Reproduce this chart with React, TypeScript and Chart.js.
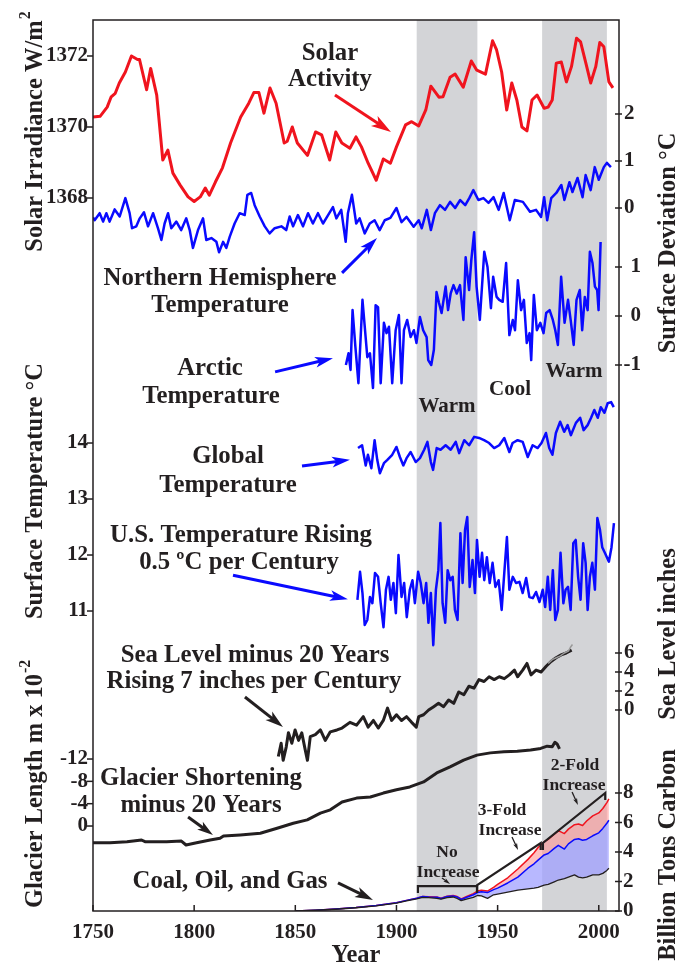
import React, { useEffect, useRef } from "react";
import { Chart, registerables } from "chart.js";
Chart.register(...registerables);

// ---------- DATA ----------
const solarYears = [1750,1753.5,1757,1759,1761,1763,1766,1769,1772,1773,1776.5,1778.5,1781.5,1784.5,1787,1789.5,1793,1797,1800,1803,1805.5,1807.5,1810.5,1814,1818,1823,1827,1829.5,1832,1834.5,1837.5,1840.5,1844.5,1846,1848.5,1851,1856,1860,1863,1867,1870,1873,1877,1880,1882.7,1886,1890,1893.5,1897,1900,1904.5,1907.5,1911,1914.5,1917,1921,1923,1926.5,1929,1933,1937,1939.7,1944,1947.5,1949.5,1952,1954.5,1957,1959.5,1962,1964.5,1967,1969.5,1973,1975,1977,1979,1981.5,1984,1986.5,1989,1991,1993.5,1996,1998.5,2000.5,2002.5,2005,2007];
const solarValues = [1370.28,1370.3,1370.56,1370.85,1370.95,1371.24,1371.55,1372.0,1371.9,1371.9,1371.05,1371.65,1370.9,1369.07,1369.35,1368.7,1368.37,1368.03,1367.9,1368.03,1368.28,1368.08,1368.45,1368.85,1369.55,1370.28,1370.67,1370.97,1370.97,1370.39,1371.1,1370.67,1369.55,1369.6,1370.0,1369.55,1369.2,1369.86,1369.78,1369.07,1369.86,1369.55,1369.4,1369.72,1369.44,1368.98,1368.5,1369.1,1368.98,1369.44,1370.06,1370.15,1370.03,1370.48,1371.15,1370.84,1370.85,1371.4,1371.49,1371.12,1371.86,1371.6,1371.49,1372.43,1372.17,1371.55,1370.48,1371.24,1370.76,1370.0,1369.89,1370.76,1370.9,1370.53,1370.56,1370.76,1371.8,1371.83,1371.27,1371.7,1372.5,1372.4,1371.83,1371.24,1371.7,1372.38,1372.26,1371.27,1371.1];

const nhYears = [1750,1750.8,1753.3,1755,1756.6,1758.2,1760.7,1763.2,1766,1768.1,1769.3,1771.4,1773.1,1775.2,1777.2,1779.7,1782.1,1783.8,1785.4,1787.1,1788.7,1791.2,1793.6,1796.1,1797.8,1799.4,1801.9,1804.4,1806,1808.5,1811,1812.3,1814.3,1815.9,1817.6,1820,1822.5,1825,1826.3,1828.2,1829.9,1832.4,1834.9,1837.3,1839.8,1843.1,1845.5,1847.2,1848.9,1851.3,1853.8,1856.3,1858.7,1861.2,1863.7,1866.2,1868.6,1870.3,1872.7,1874.9,1876,1878,1880.1,1881.8,1884.3,1886.8,1889.2,1891.7,1894.2,1897,1900,1902.5,1905,1908.5,1911,1912.5,1915,1917,1919,1921.5,1924,1926.5,1929,1931.5,1934,1936,1938,1940.5,1943,1945.5,1948,1950.5,1953,1956,1958.5,1962.5,1966,1969,1971.5,1973,1974.5,1976.5,1979,1981.5,1983,1985.5,1987,1989.5,1992,1993.5,1996,1998,2000,2002.5,2004,2006];
const nhValues = [-0.2,-0.26,-0.11,-0.29,-0.11,-0.29,-0.03,-0.18,0.21,-0.11,-0.43,-0.39,-0.22,-0.09,-0.39,-0.11,-0.43,-0.68,-0.33,-0.11,-0.43,-0.29,-0.47,-0.22,-0.47,-0.85,-0.47,-0.22,-0.68,-0.64,-0.72,-0.94,-0.72,-0.85,-0.61,-0.33,-0.11,-0.15,0.28,0.32,0.06,-0.18,-0.39,-0.54,-0.43,-0.39,-0.47,-0.18,-0.39,-0.15,-0.39,-0.11,-0.33,-0.11,-0.33,-0.15,0.02,-0.22,-0.04,-0.72,-0.11,0.28,-0.33,-0.22,-0.54,-0.33,-0.26,-0.47,-0.26,-0.21,0,-0.3,-0.19,-0.4,-0.26,-0.43,-0.04,-0.47,-0.11,0.06,-0.04,0.13,0,0.17,0.06,0.21,0.38,0.17,0.21,0.11,0.23,-0.04,0.32,-0.26,0.17,0.13,-0.08,-0.04,-0.19,0.23,-0.26,0.21,0.32,0.49,0.17,0.55,0.34,0.64,0.23,0.7,0.38,0.87,0.6,0.87,0.96,0.87];

const arcticYears = [1875,1876.3,1877.3,1878.3,1879.7,1881.2,1883.2,1885.6,1886.9,1888.4,1889.7,1890.9,1892.2,1893.8,1895.1,1896.3,1897.9,1899.6,1901.2,1902.5,1903.7,1905.3,1907,1908.6,1909.9,1911.6,1913.2,1914.9,1915.7,1917.2,1918.5,1919.8,1921,1922.3,1924.3,1925.5,1926.8,1928.2,1929.8,1931.4,1933.1,1934.2,1935.9,1937,1938.4,1939.6,1941.2,1943.4,1945,1946.7,1947.8,1949.5,1950.8,1952.5,1954.2,1955.8,1957.5,1958.6,1960,1961.6,1963,1964.4,1965.8,1966.6,1967.9,1969.4,1971.1,1972.7,1974,1975.7,1977.3,1978.5,1979.8,1981.4,1983.1,1984.8,1986.1,1987.6,1989,1990.6,1991.8,1993.1,1994.5,1995.6,1996.9,1998.1,1999.2,1999.9,2000.9];
const arcticValues = [-1.0,-0.76,-1.1,0.12,-0.63,-1.37,0.33,-0.84,-0.76,-1.47,0.22,0.18,-1.37,-0.14,-0.35,-0.22,-1.37,-0.29,0.02,-1.37,-0.29,-0.08,-0.43,-0.29,-0.55,-0.02,-0.29,-0.43,-0.9,-1.0,-0.69,0.49,0.27,0.06,0.6,0.12,0.46,0.63,0.46,0.63,-0.08,1.2,0.53,1.14,1.71,0.6,-0.08,1.31,1.0,0.16,0.8,0.39,0.33,0.29,1.08,-0.39,-0.08,-0.29,0.73,0.12,0.33,-0.55,-0.35,-0.9,0.43,-0.29,-0.14,-0.35,0.06,0.12,-0.08,-0.29,-0.59,0.8,-0.14,0.33,-0.08,-0.59,0.33,0.53,-0.29,0.39,0.12,1.31,1.08,0.6,0.53,0.12,1.51];

const globalYears = [1881,1883,1884.8,1885.9,1887.6,1889.2,1890.5,1891.8,1893.8,1895.5,1897.9,1900,1901.7,1903.4,1905,1907,1909.5,1911.6,1913.7,1915.3,1917,1918.1,1919.9,1921.8,1924.3,1926.8,1929.3,1931,1933.5,1935.9,1938.4,1940.8,1943.3,1945.8,1948.3,1950.8,1953.3,1955.8,1957.4,1959.9,1962.4,1964.9,1967.3,1969.8,1971.7,1973.9,1975.5,1977.1,1978.8,1980.9,1982.9,1984.6,1986.2,1988.7,1990.8,1992.5,1994.5,1996.2,1997.8,1999.5,2001,2002.8,2004.4,2006.1,2007.4];
const globalValues = [13.91,13.96,13.6,13.79,13.55,14.05,13.7,13.46,13.64,13.7,13.79,13.93,13.75,13.6,13.73,13.84,13.66,13.73,13.88,14.02,13.66,13.52,13.91,13.88,13.96,13.88,14.02,13.82,14.05,13.96,14.11,14.09,14.05,14.0,13.91,13.96,14.09,13.84,14.0,14.05,14.02,13.75,13.96,13.91,14.0,14.18,13.91,13.79,14.18,14.38,14.2,14.32,14.14,14.36,14.45,14.23,14.32,14.45,14.59,14.45,14.64,14.54,14.71,14.73,14.64];

const usYears = [1880.7,1882,1883.2,1884.3,1885.6,1886.9,1888.1,1889.4,1890.9,1892.2,1893.6,1894.8,1896.1,1897.2,1898.5,1899.7,1901,1902.5,1903.8,1905.1,1906.6,1907.9,1909.1,1910.7,1912,1913.4,1914.7,1915.8,1917,1918.2,1919.5,1920.7,1921.7,1922.8,1924.1,1925.3,1926.6,1927.8,1928.9,1930.2,1931.6,1932.7,1933.9,1935,1936.2,1937.6,1938.8,1939.8,1941.1,1942.3,1943.4,1944.7,1946.1,1947.5,1948.9,1950.5,1952,1953.3,1954.6,1955.8,1957.5,1959.1,1960.8,1962.4,1964.1,1965.7,1967.4,1969,1970.7,1972.3,1973.5,1974.8,1976,1977.3,1978.5,1979.8,1981.1,1982.5,1983.6,1984.8,1986.1,1987.4,1988.6,1989.8,1991,1992.3,1993.5,1994.5,1995.6,1996.8,1998.1,1999.3,2000.6,2001.7,2003,2005,2006.3,2007.5];
const usValues = [11.2,11.7,11.32,10.75,10.84,11.25,11.14,11.68,11.61,11.14,10.71,11.38,11.61,11.2,11.5,10.96,12.0,11.25,11.5,10.89,11.38,11.55,11.14,11.7,11.5,11.14,11.5,10.79,11.32,10.39,11.38,11.73,12.57,11.14,10.79,11.73,11.55,11.61,11.02,10.84,12.39,11.5,12.45,12.68,11.43,11.91,11.32,12.27,11.61,12.04,11.55,11.96,11.5,11.86,11.43,11.55,11.02,11.68,12.32,11.38,11.61,11.5,11.52,11.32,11.59,11.25,11.23,11.34,11.16,11.38,11.07,11.61,11.02,11.73,10.84,11.02,12.04,11.14,11.38,11.43,11.02,12.21,12.27,11.61,11.2,12.21,11.86,11.02,11.61,11.86,11.38,12.66,12.45,12.14,12.04,11.88,12.14,12.57];

const seaYears = [1841.6,1843,1844,1845.5,1846.6,1848.3,1849.9,1851.6,1853.2,1854.9,1856,1857.4,1859.9,1862.4,1864.8,1867.3,1870.6,1873.1,1877,1880.3,1883.6,1886,1888.6,1891,1893.5,1895.6,1897.6,1900,1902.5,1905,1907.5,1909.8,1911,1913.4,1915.9,1918.4,1920.8,1923.3,1925.8,1928.3,1930.8,1933.3,1935.8,1938.3,1940.8,1943.3,1945.8,1948.3,1950.8,1953.3,1955.8,1958.3,1959.9,1962.4,1964.5,1966.5,1969,1971.5,1974,1976.4,1978.9,1981.4,1983.9,1986.6];
const seaValues = [-4.9,-3.5,-5.3,-3.9,-2.4,-3.5,-2.1,-3.2,-2.4,-4.2,-5.3,-2.8,-2.6,-2.1,-3.2,-2.3,-2.1,-1.9,-1.3,-1.6,-0.7,-1.8,-1.1,-1.9,-1.1,0.2,-1.1,-0.5,-1.1,-0.7,-1.3,-1.8,-0.7,-0.5,0,0.35,0.7,0.35,1.05,0.7,1.9,1.6,2.5,2.3,3.2,3.0,3.5,3.2,3.5,3.3,3.7,4.2,3.5,4.2,4.9,3.7,4.2,4.0,4.6,5.1,5.5,5.8,6.0,6.3];
const seaAltYears = [1975,1977,1979,1981,1983,1985,1986,1987];
const seaAltValues = [4.9,5.3,5.5,5.7,6.0,6.2,6.6,6.9];

const glacierYears = [1750,1758.4,1766.8,1774,1775.7,1786.4,1793.7,1796,1801.2,1807.9,1812.8,1814.5,1822.8,1832.7,1841,1849,1855.9,1862.4,1867.3,1873.1,1880.3,1887.1,1893.5,1900,1906.6,1913.4,1919.9,1926.5,1933.2,1939.8,1946.4,1953.1,1959.7,1966.3,1971.3,1974.5,1977,1978.3,1979.4,1980.6];
const glacierValues = [3.0,3.0,2.8,2.5,2.8,2.8,2.7,3.4,3.0,2.5,2.2,1.8,1.6,1.3,0.4,-0.5,-1.1,-2.3,-2.9,-4.3,-5.0,-5.2,-5.9,-6.5,-7.0,-7.9,-9.5,-10.6,-11.8,-12.7,-13.1,-13.3,-13.4,-13.6,-13.9,-14.3,-14.2,-15.0,-14.7,-13.8];

const carbonYears = [1850,1860,1870,1880,1890,1900,1905,1910,1913,1916,1920,1922,1925,1928,1930,1932,1935,1938,1940,1942,1945,1948,1950,1955,1960,1965,1968,1970,1973,1975,1978,1980,1983,1985,1988,1990,1992,1994,1997,2000,2002,2004,2005];
const carbonBlack = [0.0,0.05,0.12,0.22,0.35,0.53,0.68,0.82,0.93,0.9,0.86,0.8,0.9,0.95,0.85,0.7,0.82,0.92,1.05,1.02,0.86,1.1,1.15,1.28,1.42,1.5,1.55,1.6,1.75,1.8,1.98,2.1,2.2,2.3,2.45,2.3,2.25,2.3,2.45,2.45,2.55,2.75,2.9];
const carbonBlue = [0.0,0.05,0.13,0.23,0.37,0.56,0.72,0.86,0.98,0.95,0.93,0.85,0.98,1.02,0.95,0.78,0.95,1.1,1.25,1.3,1.25,1.45,1.55,1.9,2.3,2.9,3.2,3.45,3.8,3.9,4.25,4.45,4.2,4.55,4.85,4.9,4.8,4.85,5.1,5.3,5.6,5.95,6.15];
const carbonRed = [0.0,0.05,0.13,0.23,0.37,0.56,0.72,0.87,0.99,0.97,0.95,0.87,1.0,1.05,0.98,0.82,1.0,1.18,1.35,1.4,1.35,1.6,1.8,2.25,2.85,3.5,3.95,4.3,4.7,4.85,5.2,5.45,5.25,5.55,5.85,5.9,5.8,6.1,6.45,6.65,6.95,7.35,7.6];

const xTicks = [1750, 1800, 1850, 1900, 1950, 2000];
const solarTicks = [1372, 1370, 1368];
const tempTicks = [14, 13, 12, 11];
const glacierTicks = [-12, -8, -4, 0];
const nhTicks = [2, 1, 0];
const arcticTicks = [1, 0, -1];
const seaTicks = [6, 4, 2, 0];
const carbonTicks = [8, 6, 4, 2, 0];
const warmPeriods = [[1910, 1940], [1972, 2004]];

// ---------- STYLE ----------
const SERIF = '"Liberation Serif", "Times New Roman", Times, serif';
const INK = "#231f20";
const RED = "#f0141e";
const BLUE = "#0a0aff";
const BAND = "#d3d4d7";
const ANN = 24.8;
const TITLE = 24.5;

const zip = (xs: number[], ys: number[]) => {
  const n = Math.min(xs.length, ys.length);
  const out: { x: number; y: number }[] = [];
  for (let i = 0; i < n; i++) out.push({ x: xs[i], y: ys[i] });
  return out;
};

type Txt = { t: string; x: number; y: number; s: number };
const labelTexts: Txt[] = [
  { t: "Solar", x: 330, y: 60, s: ANN },
  { t: "Activity", x: 330, y: 86, s: ANN },
  { t: "Northern Hemisphere", x: 220, y: 285, s: ANN },
  { t: "Temperature", x: 220, y: 312, s: ANN },
  { t: "Arctic", x: 210, y: 375, s: ANN },
  { t: "Temperature", x: 211, y: 403, s: ANN },
  { t: "Global", x: 228, y: 463, s: ANN },
  { t: "Temperature", x: 228, y: 492, s: ANN },
  { t: "U.S. Temperature Rising", x: 241, y: 542, s: ANN },
  { t: "0.5 ºC per Century", x: 239, y: 569, s: ANN },
  { t: "Sea Level minus 20 Years", x: 255, y: 662, s: ANN },
  { t: "Rising 7 inches per Century", x: 254, y: 688, s: ANN },
  { t: "Glacier Shortening", x: 201, y: 785, s: ANN },
  { t: "minus 20 Years", x: 201, y: 812, s: ANN },
  { t: "Coal, Oil, and Gas", x: 230, y: 888, s: ANN },
  { t: "Warm", x: 447, y: 412, s: 21 },
  { t: "Cool", x: 510, y: 395, s: 21 },
  { t: "Warm", x: 574, y: 377, s: 21 },
  { t: "No", x: 447, y: 857, s: 17.5 },
  { t: "Increase", x: 448, y: 877, s: 17.5 },
  { t: "3-Fold", x: 502, y: 815, s: 17.5 },
  { t: "Increase", x: 510, y: 835, s: 17.5 },
  { t: "2-Fold", x: 575, y: 770, s: 17.5 },
  { t: "Increase", x: 574, y: 790, s: 17.5 },
];

type Arrow = { axis: string; from: [number, number]; to: [number, number]; color: string; w: number; head: number };
const arrows: Arrow[] = [
  { axis: "ySolar", from: [1869.6, 1370.9], to: [1897.3, 1369.86], color: RED, w: 3, head: 20 },
  { axis: "yNH", from: [1873.1, -1.38], to: [1890.4, -0.64], color: BLUE, w: 3, head: 18 },
  { axis: "yArctic", from: [1840, -1.14], to: [1868.6, -0.86], color: BLUE, w: 3, head: 18 },
  { axis: "yTemp", from: [1853.3, 13.59], to: [1877, 13.7], color: BLUE, w: 3, head: 18 },
  { axis: "yTemp", from: [1819.2, 11.64], to: [1876, 11.21], color: BLUE, w: 3, head: 18 },
  { axis: "ySea", from: [1825.1, 1.37], to: [1843.9, -1.79], color: INK, w: 3, head: 18 },
  { axis: "yGlacier", from: [1797, -1.61], to: [1809.3, 1.61], color: INK, w: 3, head: 16 },
  { axis: "yCarbon", from: [1871.1, 1.9], to: [1888.4, 0.75], color: INK, w: 3, head: 18 },
  { axis: "yCarbon", from: [1922.5, 2.24], to: [1926.5, 1.83], color: INK, w: 1.3, head: 7 },
  { axis: "yCarbon", from: [1957.1, 5.02], to: [1960.1, 4.14], color: INK, w: 1.3, head: 7 },
  { axis: "yCarbon", from: [1986.8, 8.07], to: [1989.7, 7.19], color: INK, w: 1.3, head: 7 },
];

const brackets: { from: [number, number]; to: [number, number] }[] = [
  { from: [1910.6, 1.69], to: [1939.8, 1.69] },
  { from: [1939.9, 1.76], to: [1971.3, 4.61] },
  { from: [1972.4, 4.61], to: [2003.2, 8.0] },
];

function drawArrow(ctx: CanvasRenderingContext2D, x0: number, y0: number, x1: number, y1: number, color: string, w: number, head: number) {
  const dx = x1 - x0, dy = y1 - y0;
  const len = Math.hypot(dx, dy);
  const ux = dx / len, uy = dy / len;
  const bx = x1 - ux * head, by = y1 - uy * head;
  const hw = head * 0.3;
  ctx.save();
  ctx.strokeStyle = color;
  ctx.fillStyle = color;
  ctx.lineWidth = w;
  ctx.lineCap = "butt";
  ctx.beginPath();
  ctx.moveTo(x0, y0);
  ctx.lineTo(x1 - ux * head * 0.7, y1 - uy * head * 0.7);
  ctx.stroke();
  ctx.beginPath();
  ctx.moveTo(x1, y1);
  ctx.lineTo(bx - uy * hw, by + ux * hw);
  ctx.lineTo(x1 - ux * head * 0.75, y1 - uy * head * 0.75);
  ctx.lineTo(bx + uy * hw, by - ux * hw);
  ctx.closePath();
  ctx.fill();
  ctx.restore();
}

function vText(ctx: CanvasRenderingContext2D, text: string, x: number, yc: number, size: number, sup?: string, supSize?: number) {
  ctx.save();
  ctx.translate(x, yc);
  ctx.rotate(-Math.PI / 2);
  ctx.fillStyle = INK;
  ctx.font = `bold ${size}px ${SERIF}`;
  ctx.textAlign = "left";
  ctx.textBaseline = "alphabetic";
  const w = ctx.measureText(text).width;
  ctx.fillText(text, -w / 2, 0);
  if (sup) {
    ctx.font = `bold ${supSize}px ${SERIF}`;
    ctx.fillText(sup, w / 2 + 1, -size * 0.5);
  }
  ctx.restore();
}

const overlay = {
  id: "overlay",
  beforeDatasetsDraw(chart: any) {
    const { ctx, chartArea } = chart;
    const xs = chart.scales.x;
    ctx.save();
    ctx.fillStyle = BAND;
    for (const [a, b] of warmPeriods) {
      const x0 = xs.getPixelForValue(a), x1 = xs.getPixelForValue(b);
      ctx.fillRect(x0, chartArea.top, x1 - x0, chartArea.bottom - chartArea.top);
    }
    ctx.restore();
  },
  afterDraw(chart: any) {
    const { ctx, chartArea } = chart;
    const { left, right, top, bottom } = chartArea;
    const s = chart.scales;
    ctx.save();
    ctx.strokeStyle = INK;
    ctx.lineWidth = 1.5;
    ctx.strokeRect(left, top, right - left, bottom - top);

    const line = (a: number, b: number, c: number, d: number) => {
      ctx.beginPath(); ctx.moveTo(a, b); ctx.lineTo(c, d); ctx.stroke();
    };

    ctx.fillStyle = INK;
    ctx.font = `bold 21px ${SERIF}`;
    ctx.textAlign = "center";
    ctx.textBaseline = "alphabetic";
    for (const t of xTicks) {
      const x = s.x.getPixelForValue(t);
      line(x, bottom, x, bottom - 6);
      ctx.fillText(String(t), x, 938);
    }
    ctx.font = `bold ${TITLE}px ${SERIF}`;
    ctx.fillText("Year", (left + right) / 2, 962);

    ctx.font = `bold 21px ${SERIF}`;
    ctx.textBaseline = "middle";
    ctx.textAlign = "right";
    const leftSets: [string, number[]][] = [["ySolar", solarTicks], ["yTemp", tempTicks], ["yGlacier", glacierTicks]];
    for (const [id, ticks] of leftSets) {
      for (const t of ticks) {
        const y = s[id].getPixelForValue(t);
        line(left - 6, y, left, y);
        ctx.fillText(String(t), left - 5, y);
      }
    }
    const rightSets: [string, number[], string, number][] = [
      ["yNH", nhTicks, "left", right + 5],
      ["yArctic", arcticTicks, "right", right + 22],
      ["ySea", seaTicks, "left", right + 5],
      ["yCarbon", carbonTicks, "left", right + 4],
    ];
    for (const [id, ticks, align, tx] of rightSets) {
      ctx.textAlign = align as CanvasTextAlign;
      for (const t of ticks) {
        const y = s[id].getPixelForValue(t);
        line(right - 4, y, right + 3, y);
        ctx.fillText(String(t), tx, y);
      }
    }

    vText(ctx, "Solar Irradiance W/m", 42, 136, TITLE, "2", 16);
    vText(ctx, "Surface Temperature °C", 42, 491, TITLE);
    vText(ctx, "Glacier Length m x 10", 42, 791, TITLE, "-2", 16);
    vText(ctx, "Surface Deviation °C", 675, 243, TITLE);
    vText(ctx, "Sea Level inches", 675, 634, TITLE);
    vText(ctx, "Billion Tons Carbon", 675, 855, TITLE);

    ctx.textAlign = "center";
    ctx.textBaseline = "alphabetic";
    ctx.fillStyle = INK;
    for (const L of labelTexts) {
      ctx.font = `bold ${L.s}px ${SERIF}`;
      ctx.fillText(L.t, L.x, L.y);
    }

    ctx.strokeStyle = INK;
    ctx.lineWidth = 2.2;
    for (const b of brackets) {
      const x0 = s.x.getPixelForValue(b.from[0]), y0 = s.yCarbon.getPixelForValue(b.from[1]);
      const x1 = s.x.getPixelForValue(b.to[0]), y1 = s.yCarbon.getPixelForValue(b.to[1]);
      ctx.beginPath();
      ctx.moveTo(x0, y0 + 7);
      ctx.lineTo(x0, y0);
      ctx.lineTo(x1, y1);
      ctx.lineTo(x1, y1 + 7);
      ctx.stroke();
    }

    for (const a of arrows) {
      const x0 = s.x.getPixelForValue(a.from[0]), y0 = s[a.axis].getPixelForValue(a.from[1]);
      const x1 = s.x.getPixelForValue(a.to[0]), y1 = s[a.axis].getPixelForValue(a.to[1]);
      drawArrow(ctx, x0, y0, x1, y1, a.color, a.w, a.head);
    }
    ctx.restore();
  },
};

const lineDs = (label: string, xs: number[], ys: number[], axis: string, color: string, width: number, extra: any = {}) => ({
  label,
  data: zip(xs, ys),
  yAxisID: axis,
  borderColor: color,
  borderWidth: width,
  pointRadius: 0,
  tension: 0,
  fill: false,
  borderJoinStyle: "round",
  ...extra,
});

export default function App() {
  const ref = useRef<HTMLCanvasElement>(null);
  useEffect(() => {
    if (!ref.current) return;
    const hidden = { display: false };
    const chart = new Chart(ref.current, {
      type: "line",
      data: {
        datasets: [
          lineDs("Solar Activity", solarYears, solarValues, "ySolar", RED, 3),
          lineDs("Northern Hemisphere Temperature", nhYears, nhValues, "yNH", BLUE, 2.5),
          lineDs("Arctic Temperature", arcticYears, arcticValues, "yArctic", BLUE, 2.5),
          lineDs("Global Temperature", globalYears, globalValues, "yTemp", BLUE, 2.5),
          lineDs("U.S. Temperature", usYears, usValues, "yTemp", BLUE, 2.5),
          lineDs("Sea Level (satellite)", seaAltYears, seaAltValues, "ySea", "#9a9a9a", 1.5),
          lineDs("Sea Level", seaYears, seaValues, "ySea", INK, 3),
          lineDs("Glacier Shortening", glacierYears, glacierValues, "yGlacier", INK, 3),
          lineDs("Coal", carbonYears, carbonBlack, "yCarbon", INK, 1.3),
          lineDs("Coal + Oil", carbonYears, carbonBlue, "yCarbon", BLUE, 1.5, { fill: "-1", backgroundColor: "rgba(160,160,255,0.75)" }),
          lineDs("Coal + Oil + Gas", carbonYears, carbonRed, "yCarbon", RED, 1.5, { fill: "-1", backgroundColor: "rgba(255,150,150,0.6)" }),
        ] as any,
      },
      options: {
        animation: false,
        responsive: false,
        maintainAspectRatio: false,
        events: [],
        layout: { padding: { left: 93, top: 20, right: 67, bottom: 57 } },
        plugins: { legend: { display: false }, tooltip: { enabled: false }, title: { display: false } },
        scales: {
          x: { type: "linear", min: 1750, max: 2010, ...hidden },
          ySolar: { type: "linear", min: 1347.915, max: 1373.014, ...hidden },
          yNH: { type: "linear", min: -14.957, max: 4.0, ...hidden },
          yArctic: { type: "linear", min: -12.143, max: 6.041, ...hidden },
          yTemp: { type: "linear", min: 5.643, max: 21.554, ...hidden },
          ySea: { type: "linear", min: -21.158, max: 72.63, ...hidden },
          yGlacier: { type: "linear", min: -144.36, max: 15.22, reverse: true, ...hidden },
          yCarbon: { type: "linear", min: 0, max: 60.4, ...hidden },
        },
      } as any,
      plugins: [overlay],
    });
    return () => chart.destroy();
  }, []);
  return (
    <div style={{ position: "absolute", left: 0, top: 0, width: 686, height: 968, background: "#fff" }}>
      <canvas ref={ref} width={686} height={968} style={{ display: "block", width: 686, height: 968 }} />
    </div>
  );
}
